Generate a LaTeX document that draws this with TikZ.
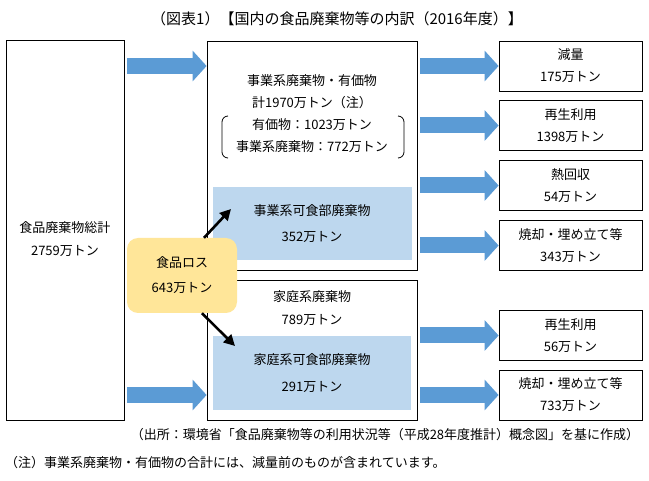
\documentclass[tikz,border=0pt]{standalone}
\usepackage{fontspec}
\setmainfont{Noto Sans CJK JP}
\usetikzlibrary{positioning, arrows.meta}
\definecolor{flowblue}{HTML}{5B9BD5}
\definecolor{paleblue}{HTML}{BDD7EE}
\definecolor{lossyellow}{HTML}{FFE699}

\begin{document}
\begin{tikzpicture}[x=1pt, y=-1pt,
        font=\fontsize{13}{22}\selectfont,
        box/.style={draw, line width=0.8pt, inner sep=0pt},
        outbox/.style={box, minimum width=143, minimum height=50, align=center},
        edible/.style={fill=paleblue, inner sep=0pt, align=center},
        flow/.style={flowblue, line width=16pt, shorten <=3pt,
            -{Triangle[length=14pt, width=30pt]}},
        lossarrow/.style={line width=2.6pt, -{Triangle[length=11pt, width=11pt]}},
        bracket/.style={line width=0.8pt}
    ]

    \useasboundingbox[fill=white] (0,0) rectangle (649,481);

    % Define positions for the columns
    \def\lpos{65}
    \def\mpos{312}
    \def\rpos{570.5}

    % Title
    \node[font=\fontsize{15}{18}\selectfont] (title) at (337,19)
        {（図表1）【国内の食品廃棄物等の内訳（2016年度）】};

    % Draw the total column
    \node[box, minimum width=118, minimum height=380] (total) at (\lpos,230) {};
    \node[align=center, font=\fontsize{13}{23}\selectfont] (totaltext) at (\lpos,239.5)
        {食品廃棄物総計\\2759万トン};

    % Draw the business and household boxes
    \node[box, minimum width=210, minimum height=229] (biz) at (\mpos,155.5) {};
    \node[align=center] (biztext) at (\mpos,113.5)
        {事業系廃棄物・有価物\\計1970万トン（注）\\有価物：1023万トン\\事業系廃棄物：772万トン};
    \node[edible, minimum width=199, minimum height=73, font=\fontsize{13}{26}\selectfont]
        (bizloss) at (\mpos,223.5) {事業系可食部廃棄物\\352万トン};

    \node[box, minimum width=210, minimum height=140] (home) at (\mpos,350) {};
    \node[align=center, font=\fontsize{13}{23}\selectfont] (hometext) at (\mpos,308.5)
        {家庭系廃棄物\\789万トン};
    \node[edible, minimum width=198, minimum height=74, font=\fontsize{13}{27}\selectfont]
        (homeloss) at (\mpos,373) {家庭系可食部廃棄物\\291万トン};

    % Brackets round the breakdown
    \draw[bracket] (228,116) to[out=180, in=90] (222,122) -- (222,152) to[out=-90, in=180] (228,158);
    \draw[bracket] (398,116) to[out=0, in=90] (404,122) -- (404,152) to[out=-90, in=0] (398,158);

    % Draw the output column
    \foreach \y/\txt [count=\i] in {66/{減量\\175万トン}, 125.5/{再生利用\\1398万トン},
            185.5/{熱回収\\54万トン}, 245.5/{焼却・埋め立て等\\343万トン},
            335.5/{再生利用\\56万トン}, 395/{焼却・埋め立て等\\733万トン}}
        \node[outbox] (r\i) at (\rpos,\y) {\txt};

    % Draw the flows
    \draw[flow] (total.east |- r1) -- (biz.west |- r1);
    \draw[flow] (total.east |- r6) -- (home.west |- r6);
    \foreach \i in {1,...,4}
        \draw[flow] (biz.east |- r\i) -- (r\i.west);
    \foreach \i in {5,6}
        \draw[flow] (home.east |- r\i) -- (r\i.west);

    % Food loss
    \node[fill=lossyellow, rounded corners=11pt, minimum width=110, minimum height=75,
        align=center, font=\fontsize{13}{25}\selectfont] (loss) at (182,275.5)
        {食品ロス\\643万トン};
    \coordinate (bizin) at (231,209);
    \coordinate (homein) at (235,346);
    \draw[lossarrow] ([xshift=22pt]loss.north) -- (bizin);
    \draw[lossarrow] ([xshift=20pt]loss.south) -- (homein);

    % Notes
    \node (source) at (385,435) {（出所：環境省「食品廃棄物等の利用状況等（平成28年度推計）概念図」を基に作成）};
    \node[anchor=west, inner sep=0pt] (note) at (5,463) {（注）事業系廃棄物・有価物の合計には、減量前のものが含まれています。};

\end{tikzpicture}
\end{document}
